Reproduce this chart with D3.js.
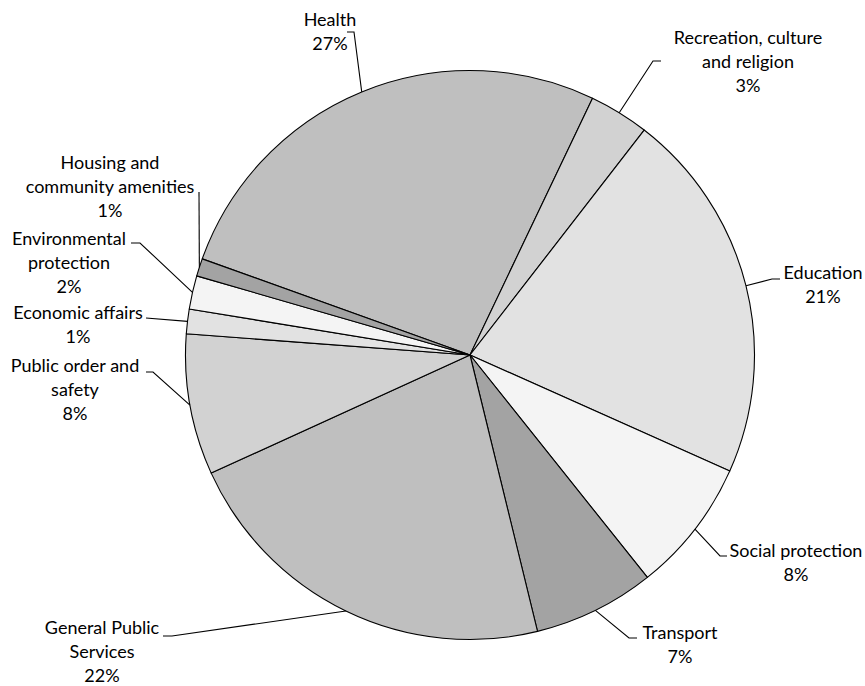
<!DOCTYPE html>
<html>
<head>
<meta charset="utf-8">
<script src="https://cdn.jsdelivr.net/npm/d3@7"></script>
<style>
  html, body { margin: 0; padding: 0; background: #fff; }
  svg { display: block; }
  text { font-family: Lato, "Open Sans", sans-serif; fill: #000; }
</style>
</head>
<body>
<svg id="chart" width="865" height="686"></svg>
<script>
// Expenditure by function, share of total (%)
const categories = [
  "Health",
  "Recreation, culture and religion",
  "Education",
  "Social protection",
  "Transport",
  "General Public Services",
  "Public order and safety",
  "Economic affairs",
  "Environmental protection",
  "Housing and community amenities"
];
const values = [26.6, 3.4, 21.2, 7.6, 6.9, 22.0, 8.0, 1.4, 1.9, 1.0];

// Five grey shades, repeated around the pie
const shades = ["#bfbfbf", "#d2d2d2", "#e2e2e2", "#f4f4f4", "#a3a3a3"];

// Label text wrapping and placement: text block centre (x, first line y),
// and the elbow of the leader line
const labelLayout = [
  { lines: ["Health"], x: 330, y: 20, elbow: [[347, 32], [354, 32]] },
  { lines: ["Recreation, culture", "and religion"], x: 748, y: 38, elbow: [[661, 61], [653, 61]] },
  { lines: ["Education"], x: 823, y: 273, elbow: [[780, 279], [772, 279]] },
  { lines: ["Social protection"], x: 796, y: 551, elbow: [[727, 556], [720, 556]] },
  { lines: ["Transport"], x: 680, y: 633, elbow: [[637, 638], [629, 638]] },
  { lines: ["General Public", "Services"], x: 102, y: 628, elbow: [[163, 636], [172, 636]] },
  { lines: ["Public order and", "safety"], x: 75, y: 366, elbow: [[146, 372], [153, 372]] },
  { lines: ["Economic affairs"], x: 78, y: 313, elbow: [[146, 318], [146, 318]] },
  { lines: ["Environmental", "protection"], x: 69, y: 239, elbow: [[131, 243], [140, 243]] },
  { lines: ["Housing and", "community amenities"], x: 110, y: 163, elbow: [[199, 192], [199, 192]] }
];

const cx = 470, cy = 355, r = 284.5;
const lineH = 23.8;
const startDeg = -70.25;

const svg = d3.select("#chart");
const g = svg.append("g").attr("transform", `translate(${cx},${cy})`);

const data = categories.map((name, i) => ({ name, value: values[i], i }));
const total = d3.sum(values);

const pie = d3.pie()
  .sort(null)
  .value(d => d.value)
  .startAngle(startDeg * Math.PI / 180)
  .endAngle(startDeg * Math.PI / 180 + 2 * Math.PI);

const arcs = pie(data);
const arc = d3.arc().innerRadius(0).outerRadius(r);

g.selectAll("path.slice")
  .data(arcs)
  .join("path")
  .attr("class", "slice")
  .attr("d", arc)
  .attr("fill", d => shades[d.data.i % shades.length])
  .attr("stroke", "#000")
  .attr("stroke-width", 1.1)
  .attr("stroke-linejoin", "round");

const pct = d3.format(".0%");

// Leader lines: from the slice's outer mid-point to the label elbow
const edgePoint = d => {
  const a = (d.startAngle + d.endAngle) / 2;
  return [cx + r * Math.sin(a), cy - r * Math.cos(a)];
};

svg.selectAll("path.leader")
  .data(arcs)
  .join("path")
  .attr("class", "leader")
  .attr("fill", "none")
  .attr("stroke", "#000")
  .attr("stroke-width", 1.1)
  .attr("d", d => {
    const L = labelLayout[d.data.i];
    const pts = [edgePoint(d), L.elbow[1], L.elbow[0]];
    return d3.line()(pts);
  });

// Labels: category name lines followed by the rounded share
const labels = svg.selectAll("text.label")
  .data(arcs)
  .join("text")
  .attr("class", "label")
  .attr("text-anchor", "middle")
  .attr("font-size", 18);

labels.each(function(d) {
  const L = labelLayout[d.data.i];
  const lines = L.lines.concat([pct(d.data.value / total)]);
  d3.select(this).selectAll("tspan")
    .data(lines)
    .join("tspan")
    .attr("x", L.x)
    .attr("y", (s, k) => L.y + k * lineH)
    .attr("dy", "0.35em")
    .text(s => s);
});
</script>
</body>
</html>
